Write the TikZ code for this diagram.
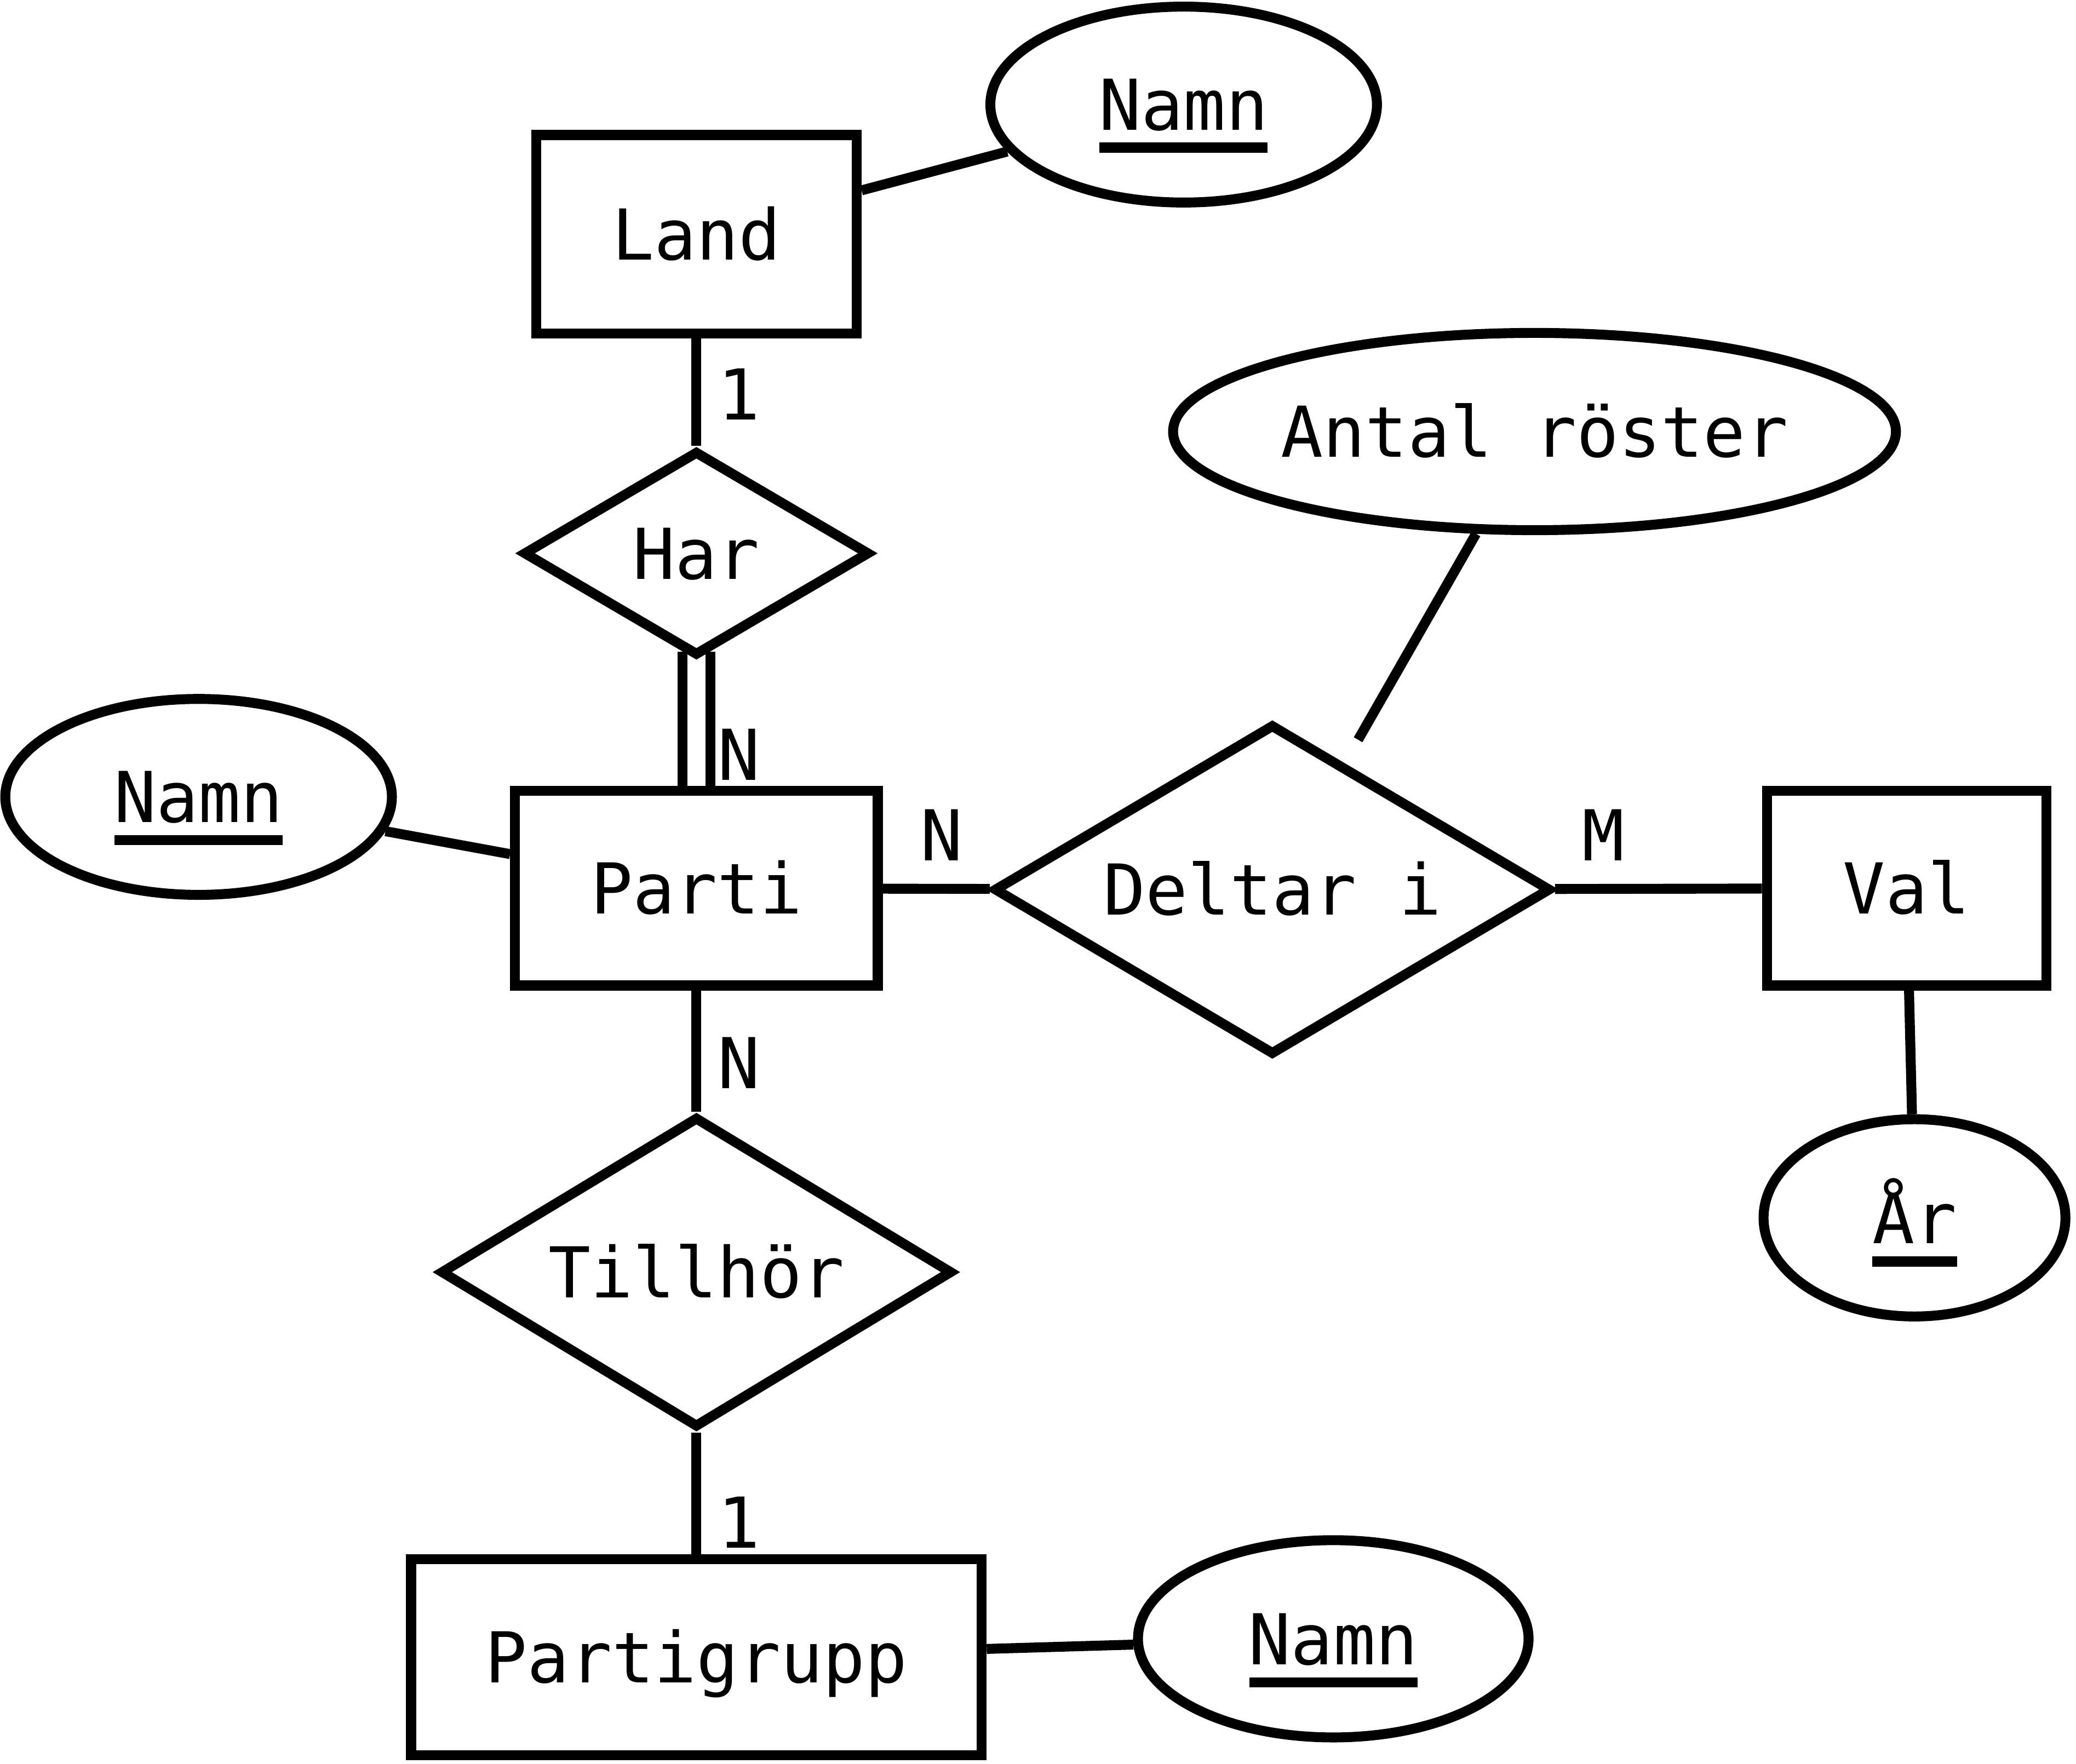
\documentclass[tikz,border=0pt]{standalone}
\usepackage{fontspec}
\newfontfamily\erfont{DejaVu Sans Mono}
\usetikzlibrary{shapes.geometric}
\begin{document}
\begin{tikzpicture}[x=1pt,y=-1pt, line width=7.5pt,
  ent/.style={draw, rectangle, inner sep=0pt, line join=miter},
  rel/.style={draw, diamond, inner sep=0pt, line join=miter},
  att/.style={draw, ellipse, inner sep=0pt},
  txt/.style={font=\erfont\fontsize{53pt}{60pt}\selectfont, text height=38.6pt, text depth=0pt, inner sep=0pt},
  ulstyle/.style={line width=7.5pt}]
\useasboundingbox (0,0) rectangle (1568,1332.2);
% shapes
\node[ent, minimum width=242pt, minimum height=150pt] (land) at (526,177) {};
\node[att, minimum width=292pt, minimum height=148pt] (namnL) at (894,79) {};
\node[rel, minimum width=262pt, minimum height=155pt] (har) at (526,418) {};
\node[att, minimum width=292pt, minimum height=148pt] (namnP) at (150,602) {};
\node[ent, minimum width=274pt, minimum height=147pt] (parti) at (526,671) {};
\node[rel, minimum width=421pt, minimum height=250pt] (deltar) at (961,672) {};
\node[att, minimum width=546pt, minimum height=149pt] (antal) at (1159,326) {};
\node[ent, minimum width=211pt, minimum height=147pt] (val) at (1440,671) {};
\node[att, minimum width=228pt, minimum height=149pt] (ar) at (1446,920) {};
\node[rel, minimum width=387pt, minimum height=235pt] (tillhor) at (526,961) {};
\node[ent, minimum width=431pt, minimum height=148pt] (pg) at (526,1252) {};
\node[att, minimum width=295pt, minimum height=149pt] (namnG) at (1007,1238) {};
% texts
\node[txt] (landT) at (land) {Land};
\node[txt] (namnLT) at (namnL) {Namn};
\node[txt] (harT) at (har) {Har};
\node[txt] (namnPT) at (namnP) {Namn};
\node[txt] (partiT) at (parti) {Parti};
\node[txt] (deltarT) at (deltar) {Deltar i};
\node[txt] (antalT) at (antal) {Antal röster};
\node[txt] (valT) at (val) {Val};
\node[txt] (arT) at (ar) {År};
\node[txt] (tillhorT) at (tillhor) {Tillhör};
\node[txt] (pgT) at (pg) {Partigrupp};
\node[txt] (namnGT) at (namnG) {Namn};
% underlines
\draw[ulstyle] ([xshift=-63.5pt,yshift=-32.5pt]namnL.center) -- ([xshift=63.5pt,yshift=-32.5pt]namnL.center);
\draw[ulstyle] ([xshift=-63.5pt,yshift=-32.5pt]namnP.center) -- ([xshift=63.5pt,yshift=-32.5pt]namnP.center);
\draw[ulstyle] ([xshift=-63.5pt,yshift=-33pt]namnG.center) -- ([xshift=63.5pt,yshift=-33pt]namnG.center);
\draw[ulstyle] ([xshift=-32pt,yshift=-33pt]ar.center) -- ([xshift=32pt,yshift=-33pt]ar.center);
% connectors
\draw (land) -- (namnL);
\draw (land) -- (har);
\draw ([xshift=-10.5pt,yshift=7pt]har.south) -- ([xshift=-10.5pt]parti.north);
\draw ([xshift=10.5pt,yshift=7pt]har.south) -- ([xshift=10.5pt]parti.north);
\draw (namnP) -- (parti);
\draw (parti) -- (deltar);
\draw[shorten >=20pt] (antal) -- (deltar);
\draw (deltar) -- (val);
\draw (val) -- (ar);
\draw (parti) -- (tillhor);
\draw (tillhor) -- (pg);
\draw (pg) -- (namnG);
% cardinalities
\node[txt] (c1) at (558,298) {1};
\node[txt] (c2) at (558,570) {N};
\node[txt] (c3) at (711,631) {N};
\node[txt] (c4) at (1211,631) {M};
\node[txt] (c5) at (558,803) {N};
\node[txt] (c6) at (558,1150) {1};
\end{tikzpicture}
\end{document}
